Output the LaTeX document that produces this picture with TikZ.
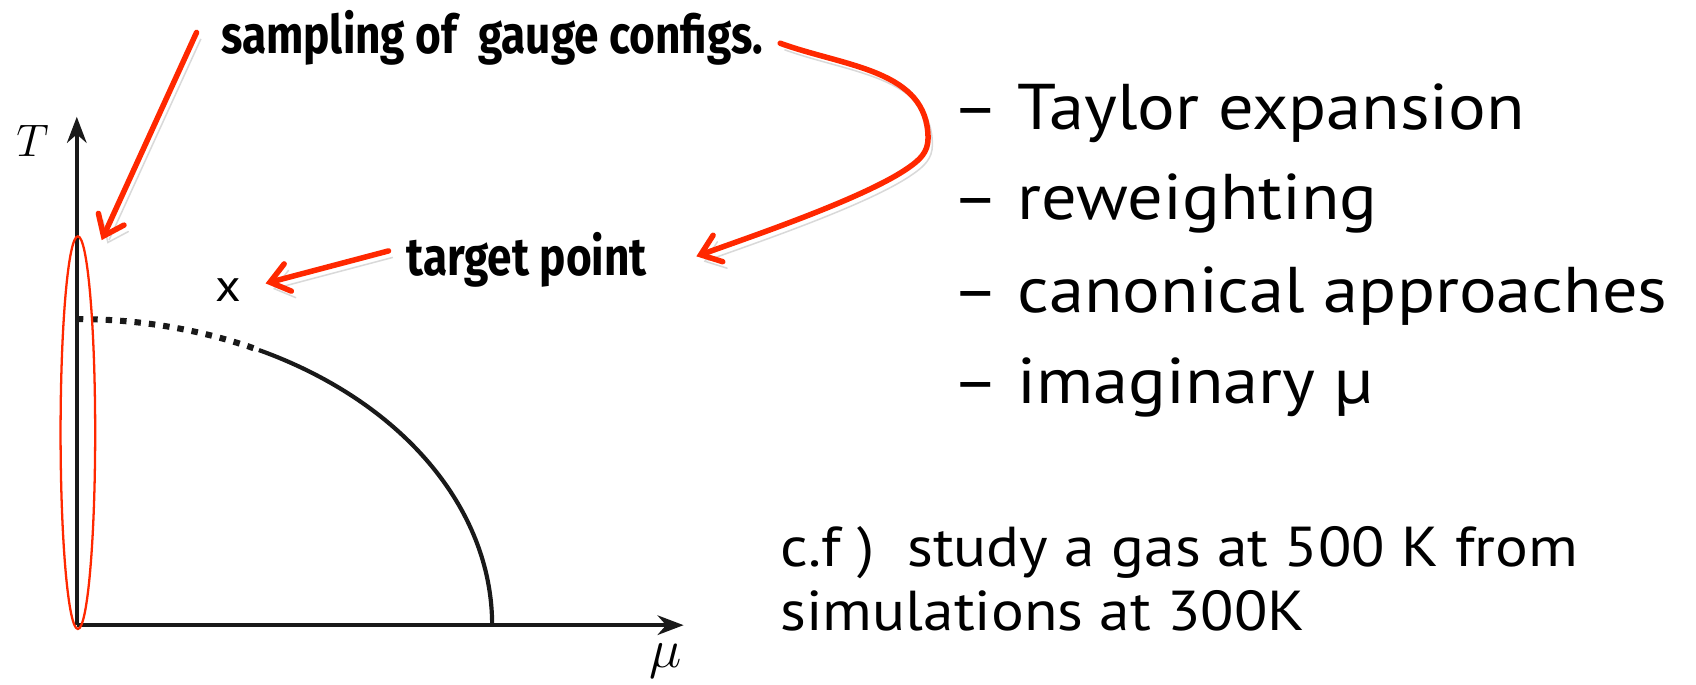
\documentclass[tikz,border=0pt]{standalone}
\usepackage{fontspec}
\usepackage{tikz}
\usetikzlibrary{arrows.meta,positioning,calc,shapes.geometric}
\newfontfamily\listfont{PT Sans}[FakeStretch=1.09]
\newfontfamily\handfont{Fira Sans}[FakeStretch=0.83]
\definecolor{notered}{RGB}{255,40,0}
\tikzset{
  axis/.style     ={line width=1.1pt,draw=black!90,-{Stealth[length=2.4mm,width=1.8mm]}},
  crit/.style     ={line width=1.1pt,draw=black!90},
  crossover/.style={line width=1.6pt,draw=black!90,dash pattern=on 1.7pt off 2.1pt},
  note/.style     ={font=\handfont\bfseries\fontsize{14}{16}\selectfont,inner sep=0pt},
  item/.style     ={font=\listfont\fontsize{17}{20}\selectfont,anchor=base west,inner sep=0pt},
  cftext/.style   ={font=\listfont\fontsize{14.8}{16.6}\selectfont,anchor=base west,inner sep=0pt},
  pointer/.style  ={line width=1.45pt,draw=notered,line cap=round,
                    -{Straight Barb[length=1.7mm,width=2.6mm,line cap=round]},
                    preaction={draw=black,opacity=0.15,transform canvas={shift={(0.4mm,-0.6mm)}}}},
  ensemble/.style ={ellipse,draw=notered,line width=0.6pt,minimum width=3.2mm,
                    minimum height=36.3mm,inner sep=0pt},
}

\begin{document}
\begin{tikzpicture}
  \useasboundingbox (0,0) rectangle (15.68,6.33);
  \coordinate (O) at (0.71,0.55);
  \coordinate (Ttop) at (0.71,5.25);
  \coordinate (mutop) at (6.32,0.55);
  % axes
  \draw[axis] (O) -- (Ttop);
  \draw[axis] (O) -- (mutop);
  \node[font=\fontsize{12.5}{15}\selectfont] (Tlab) at (0.30,5.03) {$T$};
  \node[font=\fontsize{15}{18}\selectfont] (mulab) at (6.15,0.22) {$\mu$};
  % phase boundary
  \draw[crossover] (O) ++(0,2.83) arc[start angle=90,end angle=64,x radius=3.84,y radius=2.83] coordinate (cep);
  \draw[crit] (cep) arc[start angle=64,end angle=0,x radius=3.84,y radius=2.83];
  % sampled region and target
  \node[ensemble] (ens) at (0.72,2.33) {};
  \coordinate (enstip) at (0.94,4.11);
  \node[font=\listfont\fontsize{12}{14}\selectfont,inner sep=0pt] (cross) at (2.11,3.65) {x};
  \node[note] (target) at (4.87,3.93) {target point};
  \node[note] (samp) at (4.55,5.98) {sampling of\ \ gauge configs.};
  \draw[pointer] ([shift={(-2.2mm,0.5mm)}]samp.west) -- (enstip);
  \draw[pointer] ([shift={(-1.6mm,0.8mm)}]target.west) -- ([shift={(2.2mm,0.6mm)}]cross.east);
  \draw[pointer] ([shift={(1.5mm,-0.5mm)}]samp.east) to[out=-20,in=90] (8.58,5.05)
    to[out=-90,in=35] (8.40,4.78)
    to[out=215,in=20,looseness=0.6] ([shift={(4.5mm,0.3mm)}]target.east);
  % methods
  \foreach \y/\txt [count=\i] in {5.13/Taylor expansion,4.30/reweighting,
      3.44/canonical approaches,2.60/imaginary µ}
    \node[item] (method\i) at (8.80,\y) {\makebox[0.6cm][l]{–}\txt};
  \node[cftext] (cf1) at (7.21,1.09) {c.f )\ \ study a gas at 500 K from};
  \node[cftext] (cf2) at (7.21,0.505) {simulations at 300K};
\end{tikzpicture}
\end{document}
